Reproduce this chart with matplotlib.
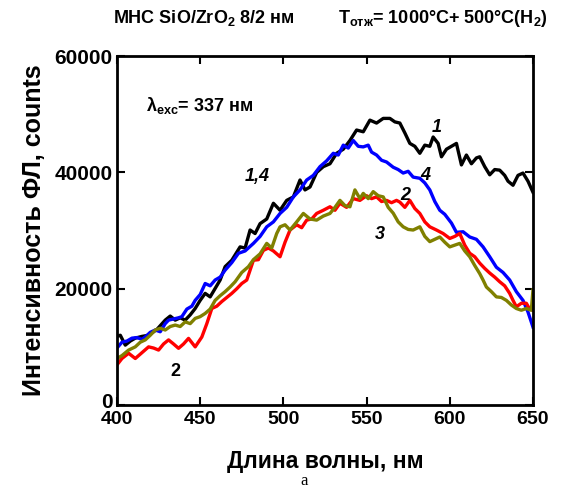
import numpy as np
import matplotlib
matplotlib.use('Agg')
import matplotlib.pyplot as plt
import matplotlib.transforms as mtransforms

plt.rcParams['font.family'] = ['Liberation Sans', 'DejaVu Sans']
plt.rcParams['font.weight'] = 'bold'
plt.rcParams['mathtext.fontset'] = 'custom'
plt.rcParams['mathtext.rm'] = 'Liberation Sans:bold'
plt.rcParams['mathtext.bf'] = 'Liberation Sans:bold'
plt.rcParams['mathtext.it'] = 'Liberation Sans:bold:italic'
plt.rcParams['mathtext.default'] = 'bf'

# curve 1 (black)
wl1 = [400, 402, 405, 408, 411, 415, 419, 424, 429, 432, 435, 438, 441, 444, 447, 450,
       453, 456, 459, 462, 465, 469, 474, 477, 480, 483, 486, 490, 494, 498, 502, 506,
       510, 513, 516, 520, 524, 528, 532, 536, 540, 544, 548, 552, 556, 560, 564, 567,
       570, 573, 576, 579, 582, 585, 588, 590, 593, 595, 598, 601, 604, 607, 610, 613,
       616, 618, 621, 624, 627, 630, 633, 635, 638, 641, 644, 647, 650]
int1 = [11800, 12000, 10300, 11000, 11500, 11800, 12000, 13000, 14600, 15300, 14600, 15000,
        14600, 15500, 16600, 18000, 19200, 18600, 20050, 21500, 23800, 24900, 27200, 27000,
        30100, 29500, 31200, 32000, 34700, 33500, 35200, 35800, 38700, 37000, 37500, 40000,
        41000, 41500, 43300, 44000, 45500, 47300, 47000, 49000, 48500, 49300, 49300, 48700,
        48500, 46800, 45000, 44500, 43300, 44700, 44500, 46100, 45000, 42700, 44000, 44500,
        45000, 41300, 43000, 41500, 42500, 42700, 41000, 39600, 40500, 40400, 39500, 38500,
        37800, 39500, 39900, 38500, 36600]

# curve 4 (blue)
wl4 = [400, 403, 406, 409, 412, 415, 417, 420, 423, 426, 429, 431, 434, 437, 439, 442,
       445, 447, 450, 453, 456, 459, 462, 465, 469, 473, 477, 482, 486, 490, 494, 498,
       502, 506, 510, 514, 518, 522, 526, 530, 533, 536, 539, 542, 545, 548, 551, 553,
       556, 559, 562, 566, 569, 572, 575, 578, 582, 585, 588, 591, 594, 597, 601, 604,
       608, 612, 616, 620, 624, 628, 632, 636, 640, 644, 647, 650]
int4 = [9800, 10800, 11000, 11500, 11600, 11300, 11700, 12500, 12900, 12600, 14000, 14600,
        14800, 15000, 15200, 16500, 17000, 18000, 19000, 20900, 20500, 21500, 22000, 23200,
        24500, 26100, 26500, 27800, 29000, 30650, 31500, 32950, 34000, 35800, 37000, 38700,
        39500, 41000, 42000, 43300, 43000, 44700, 44200, 45500, 44500, 44400, 44700, 43500,
        43000, 42100, 41800, 40900, 40500, 39900, 40200, 39200, 39000, 38200, 37000, 35000,
        33500, 32800, 31300, 29700, 29800, 28900, 28500, 27200, 25500, 23700, 22800, 21500,
        19500, 18000, 16000, 13400]

# curve 2 (red)
wl2 = [400, 403, 407, 411, 415, 419, 422, 425, 428, 431, 434, 437, 440, 443, 447, 451,
       454, 457, 460, 463, 466, 469, 472, 475, 478, 482, 485, 488, 491, 494, 498, 501,
       504, 508, 511, 514, 517, 520, 524, 528, 531, 534, 538, 542, 546, 550, 553, 556,
       559, 562, 565, 568, 570, 573, 576, 579, 582, 585, 588, 592, 596, 600, 603, 606,
       609, 612, 615, 618, 621, 624, 627, 630, 633, 636, 638, 640, 643, 646, 648, 650]
int2 = [6900, 8000, 8900, 8000, 9000, 10000, 9800, 9450, 10500, 11200, 10500, 9750, 10500,
        11460, 10000, 11700, 14000, 16600, 17000, 17800, 18500, 19200, 20000, 20900, 21500,
        24900, 25000, 26600, 27000, 26500, 25500, 28000, 30100, 31000, 30500, 31800, 32000,
        32950, 33500, 34100, 33500, 34700, 34000, 35500, 35200, 36000, 35500, 35800, 35000,
        35200, 34800, 35200, 34900, 34000, 35200, 33800, 32950, 31500, 30650, 30100, 29500,
        28650, 29000, 29500, 27500, 26100, 25500, 24400, 23500, 22700, 22000, 21200, 20500,
        19200, 18000, 16900, 17500, 17500, 16500, 16300]

# curve 3 (olive)
wl3 = [400, 403, 407, 411, 414, 417, 420, 423, 426, 429, 432, 435, 438, 441, 444, 447,
       450, 453, 456, 459, 462, 465, 468, 471, 475, 479, 482, 486, 490, 493, 496, 498,
       501, 504, 508, 512, 516, 520, 524, 528, 531, 534, 537, 540, 543, 546, 548, 551,
       554, 557, 560, 563, 566, 569, 572, 575, 578, 582, 585, 588, 591, 594, 597, 600,
       603, 606, 609, 612, 615, 618, 620, 622, 625, 628, 631, 634, 637, 640, 643, 646,
       649, 650]
int3 = [8000, 8500, 9450, 10000, 10800, 11200, 12000, 12900, 13200, 12900, 13500, 13750,
        13500, 14300, 14000, 14900, 15200, 15750, 16500, 18000, 18800, 19500, 20300, 21200,
        22800, 23800, 25000, 26000, 27800, 27000, 29500, 30650, 31000, 30100, 31500, 32950,
        32000, 31800, 32500, 32950, 34000, 35200, 34300, 34100, 37000, 35500, 36400, 35500,
        36700, 36000, 35800, 34000, 33000, 31500, 30650, 30200, 30100, 30650, 29000, 28100,
        28500, 28900, 28000, 27200, 27500, 27800, 26500, 25500, 24000, 22600, 21500, 20300,
        19500, 18600, 18500, 18000, 17200, 16600, 16300, 16600, 16300, 19800]

fig = plt.figure(figsize=(5.64, 4.93), dpi=100)
ax = fig.add_axes([0.2074, 0.1785, 0.7376, 0.7075])

lw = 2.4
ax.plot(wl1, int1, color='black', lw=lw)
ax.plot(wl4, int4, color='#0000ff', lw=lw)
ax.plot(wl2, int2, color='#ff0000', lw=lw)
ax.plot(wl3, int3, color='#808000', lw=lw)

ax.set_xlim(400, 650)
ax.set_ylim(0, 60000)
ax.set_xticks([400, 450, 500, 550, 600, 650])
ax.set_yticks([0, 20000, 40000, 60000])
ax.tick_params(direction='in', top=True, right=True, length=6, width=1.5,
               labelsize=14)
ax.tick_params(axis='x', pad=4)
ax.tick_params(axis='y', labelsize=15, pad=3)
for lab in ax.get_xticklabels() + ax.get_yticklabels():
    lab.set_fontweight('bold')
for sp in ax.spines.values():
    sp.set_linewidth(2)

# nudge the "0" label up a little so it sits clear of "400"
ylab0 = ax.get_yticklabels()[0]
ylab0.set_transform(ylab0.get_transform() +
                    mtransforms.ScaledTranslation(0, 3 / 72, fig.dpi_scale_trans))

ax.set_xlabel('Длина волны, нм', fontsize=16.5, fontweight='bold', labelpad=16)
ax.set_ylabel('Интенсивность ФЛ, counts', fontsize=18, fontweight='bold', labelpad=6)

# curve labels
ax.text(0.07, 0.86, r'$\mathregular{\lambda}_{exc}$= 337 нм', transform=ax.transAxes,
        fontsize=13, fontweight='bold', va='center')
ax.text(592, 47000, '1', fontsize=13, fontweight='bold', style='italic', ha='center')
ax.text(585, 38700, '4', fontsize=13, fontweight='bold', style='italic', ha='center')
ax.text(573, 35200, '2', fontsize=13, fontweight='bold', style='italic', ha='center')
ax.text(558, 28500, '3', fontsize=13, fontweight='bold', style='italic', ha='center')
ax.text(484, 38600, '1,4', fontsize=13, fontweight='bold', style='italic', ha='center')
ax.text(435, 5000, '2', fontsize=13, fontweight='bold', ha='center')

fig.text(0.2, 0.963, 'МНС SiO/ZrO$_2$ 8/2 нм', fontsize=13, fontweight='bold', va='center')
fig.text(0.6, 0.963, 'T$_{отж}$= 1000°C+ 500°C(H$_2$)', fontsize=13,
         fontweight='bold', va='center')
fig.text(0.54, 0.008, 'а', fontsize=12, family='Liberation Serif', fontweight='normal',
         ha='center', va='bottom')

fig.savefig('out.png', dpi=100)
